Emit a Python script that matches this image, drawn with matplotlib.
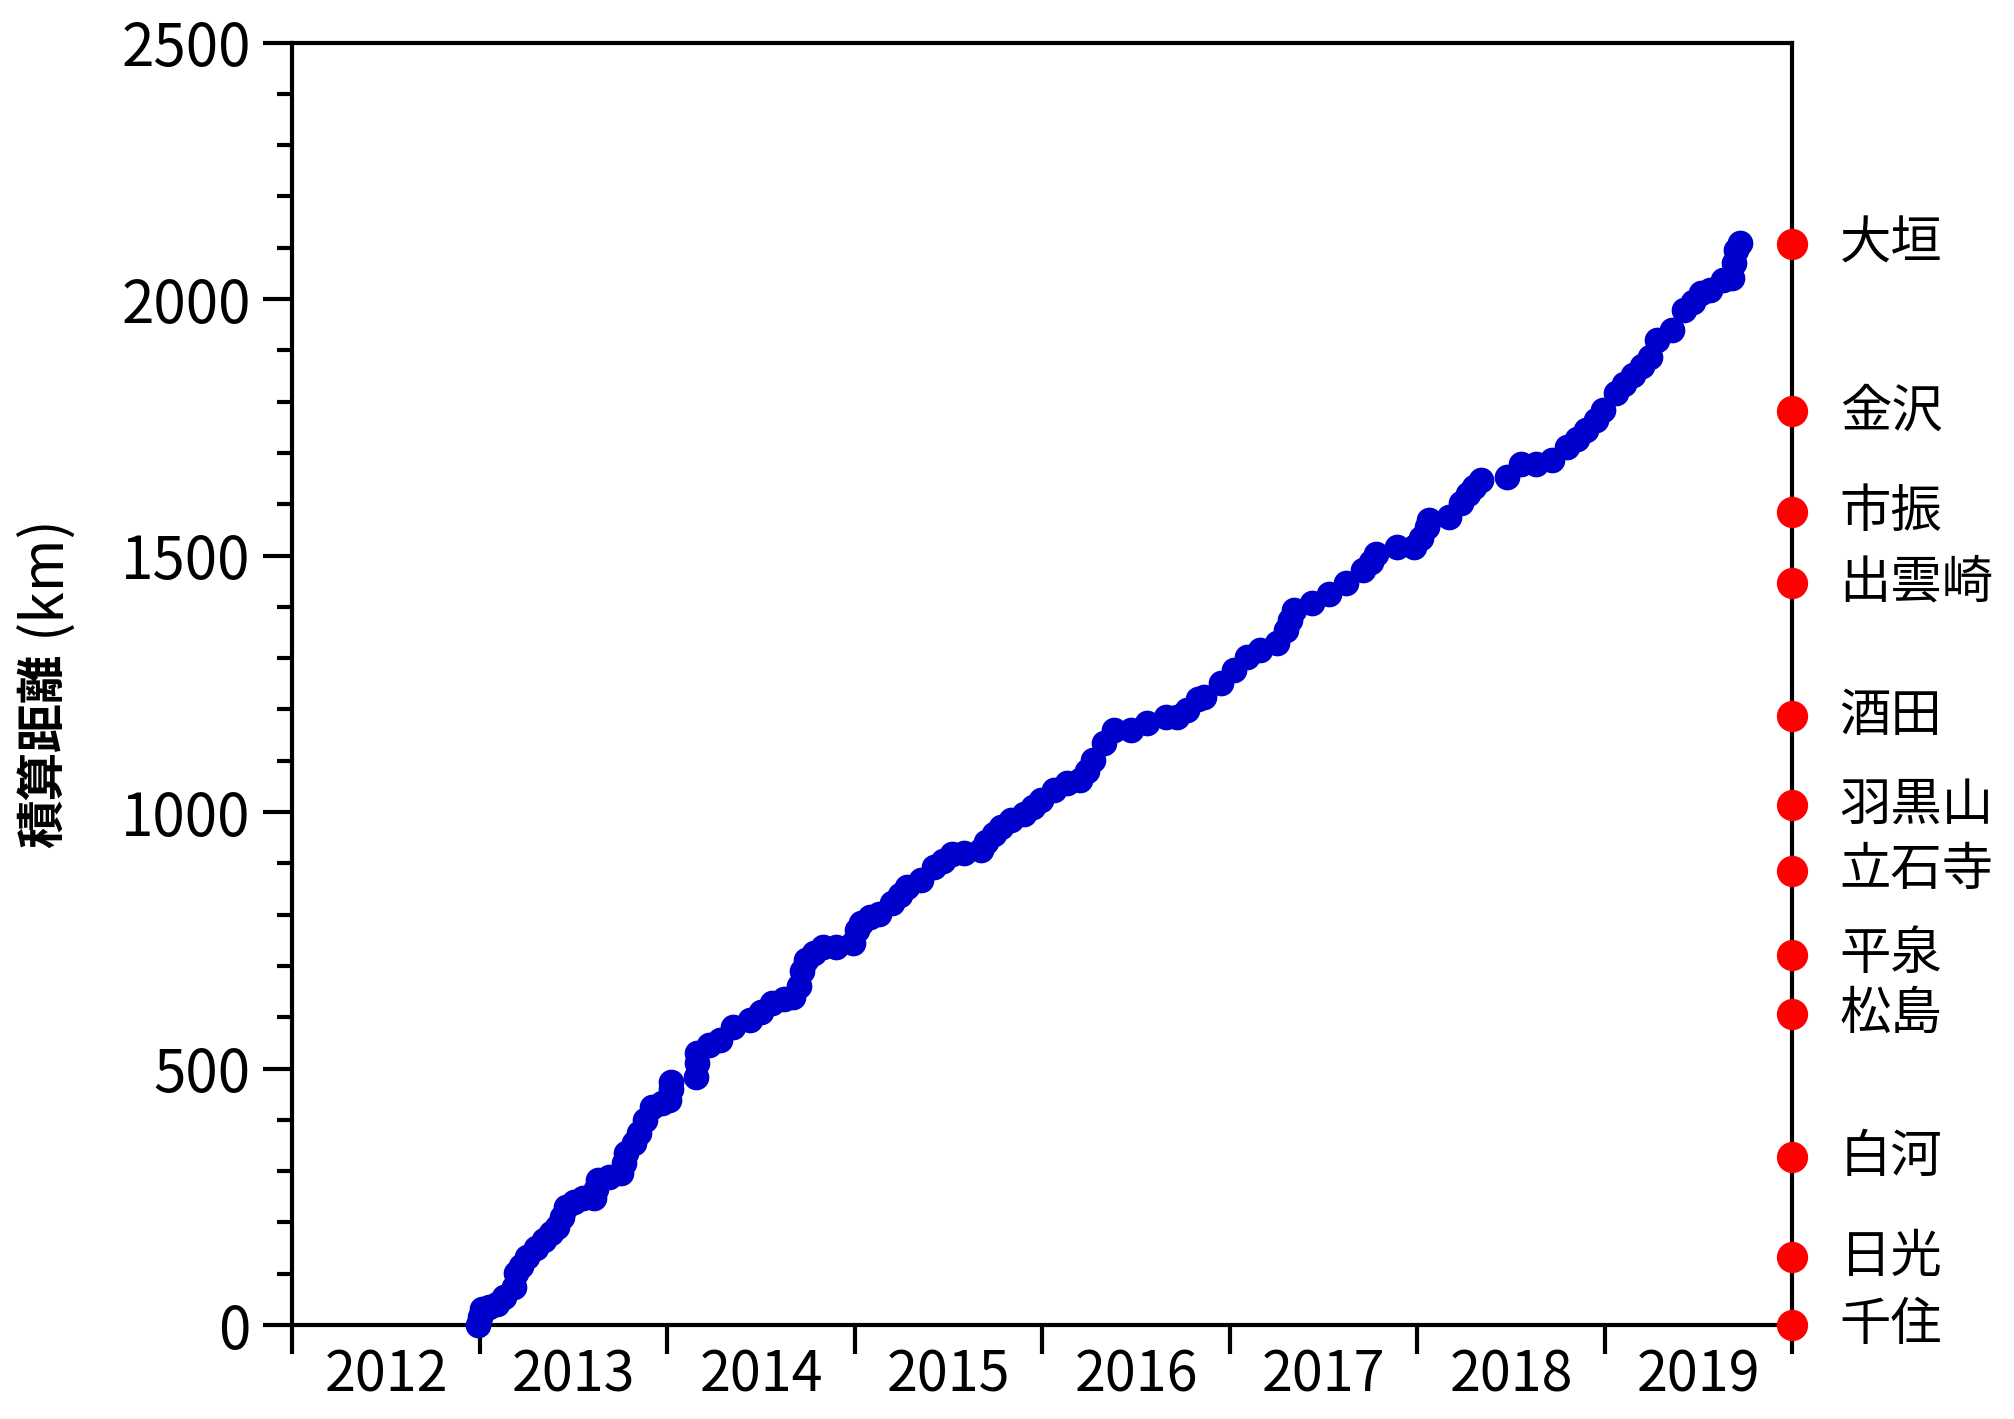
import matplotlib
matplotlib.use("Agg")
import matplotlib.pyplot as plt
from matplotlib.ticker import MultipleLocator, FixedLocator, NullFormatter, FixedFormatter

plt.rcParams['font.family'] = ['Noto Sans CJK JP', 'DejaVu Sans']

# cumulative walking distance (year as decimal, km)
years = [2012.99, 2013.00, 2013.01, 2013.05, 2013.09, 2013.13, 2013.18, 2013.19,
         2013.22, 2013.25, 2013.30, 2013.34, 2013.38, 2013.41, 2013.44, 2013.46,
         2013.50, 2013.55, 2013.61, 2013.62, 2013.63, 2013.69, 2013.75, 2013.77,
         2013.78, 2013.82, 2013.85, 2013.88, 2013.92, 2013.97, 2014.01, 2014.02,
         2014.02, 2014.15, 2014.16, 2014.16, 2014.22, 2014.28, 2014.35, 2014.44,
         2014.50, 2014.56, 2014.62, 2014.67, 2014.70, 2014.72, 2014.74, 2014.78,
         2014.83, 2014.90, 2014.99, 2015.01, 2015.03, 2015.08, 2015.13, 2015.20,
         2015.24, 2015.28, 2015.35, 2015.42, 2015.47, 2015.52, 2015.58, 2015.67,
         2015.70, 2015.74, 2015.78, 2015.83, 2015.90, 2015.95, 2015.99, 2016.06,
         2016.13, 2016.20, 2016.24, 2016.27, 2016.33, 2016.38, 2016.47, 2016.56,
         2016.66, 2016.72, 2016.77, 2016.83, 2016.86, 2016.95, 2017.02, 2017.09,
         2017.16, 2017.25, 2017.30, 2017.32, 2017.34, 2017.44, 2017.53, 2017.62,
         2017.71, 2017.75, 2017.78, 2017.89, 2017.98, 2018.02, 2018.05, 2018.06,
         2018.17, 2018.23, 2018.27, 2018.30, 2018.34, 2018.48, 2018.55, 2018.63,
         2018.72, 2018.80, 2018.85, 2018.90, 2018.95, 2018.99, 2019.06, 2019.10,
         2019.15, 2019.20, 2019.24, 2019.28, 2019.36, 2019.42, 2019.47, 2019.51,
         2019.56, 2019.63, 2019.68, 2019.69, 2019.70, 2019.72]
kms = [0, 15, 32, 36, 42, 55, 75, 101,
       115, 133, 150, 166, 180, 192, 210, 231,
       240, 247, 247, 265, 283, 289, 296, 315,
       335, 355, 374, 400, 426, 432, 439, 460,
       474, 484, 510, 530, 545, 556, 581, 594,
       610, 627, 635, 640, 660, 690, 711, 725,
       737, 737, 744, 770, 783, 795, 802, 822,
       838, 854, 867, 893, 905, 919, 920, 926,
       942, 958, 970, 984, 997, 1010, 1023, 1043,
       1056, 1062, 1080, 1101, 1134, 1160, 1160, 1173,
       1186, 1186, 1199, 1220, 1225, 1251, 1277, 1303,
       1316, 1329, 1355, 1375, 1394, 1407, 1426, 1446,
       1472, 1488, 1504, 1517, 1517, 1535, 1555, 1569,
       1576, 1602, 1620, 1634, 1647, 1654, 1678, 1678,
       1686, 1712, 1728, 1745, 1765, 1784, 1816, 1834,
       1852, 1870, 1888, 1920, 1940, 1979, 1995, 2011,
       2017, 2037, 2041, 2070, 2095, 2110]

# stops along the route
places = ['千住', '日光', '白河', '松島', '平泉', '立石寺', '羽黒山', '酒田',
          '出雲崎', '市振', '金沢', '大垣']
place_km = [0, 132, 327, 606, 722, 886, 1014, 1187, 1447, 1585, 1781, 2107]

year_labels = ['2012', '2013', '2014', '2015', '2016', '2017', '2018', '2019']

fig = plt.figure(figsize=(20.14, 14.19), dpi=100)
ax = fig.add_axes([0.1452, 0.0662, 0.7448, 0.9038])

ax.plot(years, kms, 'o', color='#0000cd', ms=17.5, clip_on=False, zorder=3)
ax.plot([2020] * len(place_km), place_km, 'o', color='#ff0000', ms=21.5,
        clip_on=False, zorder=4)
for name, d in zip(places, place_km):
    ax.annotate(name, xy=(2020, d), xytext=(34, 0), textcoords='offset points',
                va='center', ha='left', fontsize=37, annotation_clip=False)

ax.set_xlim(2012, 2020)
ax.set_ylim(0, 2500)

ax.xaxis.set_major_locator(MultipleLocator(1))
ax.xaxis.set_major_formatter(NullFormatter())
ax.xaxis.set_minor_locator(FixedLocator([y + 0.5 for y in range(2012, 2020)]))
ax.xaxis.set_minor_formatter(FixedFormatter(year_labels))
ax.tick_params(axis='x', which='major', direction='out', length=21, width=3)
ax.tick_params(axis='x', which='minor', length=0, pad=16, labelsize=40)

ax.yaxis.set_major_locator(MultipleLocator(500))
ax.yaxis.set_minor_locator(MultipleLocator(100))
ax.tick_params(axis='y', which='major', direction='out', length=21, width=3,
               labelsize=42, pad=9)
ax.tick_params(axis='y', which='minor', direction='out', length=11, width=3)

for s in ax.spines.values():
    s.set_linewidth(3)

# y label: bold kanji + regular unit
fig.text(43 / 2014, 1 - 654 / 1419, '積算距離', rotation=90, ha='center', va='top',
         fontsize=35, fontweight='bold')
fig.text(43 / 2014, 1 - 636 / 1419, '(km)', rotation=90, ha='center', va='bottom',
         fontsize=41)

fig.savefig('out.png', dpi=100)
